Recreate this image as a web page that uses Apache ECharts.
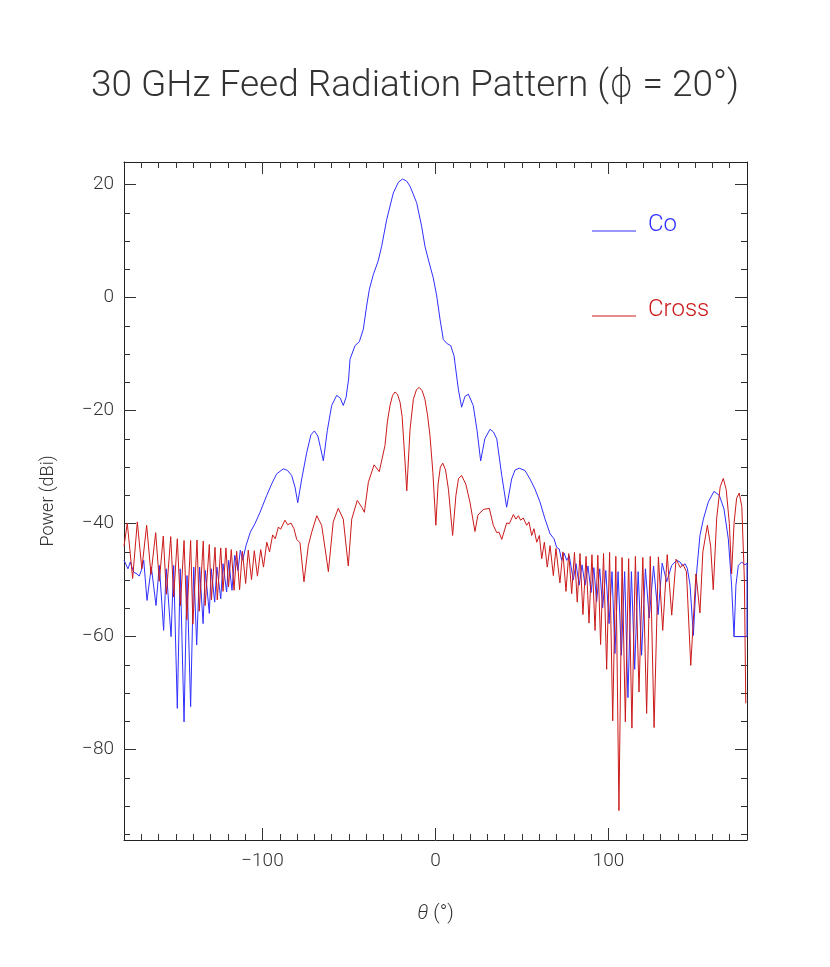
<!DOCTYPE html>
<html><head><meta charset="utf-8">
<script src="https://cdn.jsdelivr.net/npm/echarts@6/dist/echarts.min.js"></script>
<style>html,body{margin:0;padding:0;background:#fff}#c{width:830px;height:967px}</style>
</head><body><div id="c"></div>
<script>
const seriesNames = ['Co', 'Cross'];
const coTheta = [-180.0,-177.7,-176.4,-174.4,-172.5,-171.2,-170.0,-168.6,-166.7,-164.2,-161.5,-159.6,-157.1,-155.6,-152.8,-151.3,-149.2,-147.5,-145.3,-143.6,-141.5,-139.7,-138.0,-136.3,-134.3,-133.0,-130.7,-129.6,-127.6,-126.3,-124.1,-122.8,-120.7,-119.5,-117.6,-116.0,-114.1,-112.8,-111.4,-109.5,-107.0,-104.3,-101.4,-97.5,-94.7,-91.8,-87.9,-85.5,-83.1,-81.2,-79.6,-77.3,-74.4,-72.0,-70.0,-68.0,-66.5,-64.8,-62.5,-60.0,-57.1,-55.0,-53.3,-51.7,-50.2,-49.4,-46.5,-44.0,-41.7,-39.8,-38.2,-35.9,-33.1,-31.1,-28.2,-24.4,-21.5,-19.0,-16.6,-14.7,-10.9,-8.0,-6.1,-4.2,-1.3,0.7,2.6,4.5,6.5,8.8,10.7,13.2,15.1,17.0,19.0,21.8,24.0,26.1,28.5,31.5,33.5,35.4,38.3,41.1,44.0,46.0,48.4,51.7,54.6,57.5,60.4,63.3,66.2,68.5,70.0,71.5,72.9,74.3,75.8,77.3,79.6,81.2,83.0,84.7,86.4,88.1,89.9,91.5,93.1,94.9,96.6,98.4,100.3,102.0,103.7,105.5,107.4,109.3,111.2,113.2,115.1,117.1,119.1,121.3,123.5,126.0,128.6,131.0,133.6,136.5,139.4,141.3,142.8,144.2,145.5,147.1,149.0,150.9,152.8,154.8,157.6,160.9,164.0,166.7,169.2,171.1,172.5,173.6,175.0,176.9,178.8,180.0,180.0,172.5];
const coPower = [-46.5,-48.0,-46.8,-48.6,-48.9,-49.3,-48.3,-46.5,-53.6,-47.7,-54.5,-47.4,-58.9,-48.0,-60.0,-47.4,-72.7,-48.0,-75.1,-49.2,-72.4,-47.7,-61.5,-47.7,-57.7,-48.3,-55.9,-48.0,-53.9,-47.7,-53.3,-47.1,-52.1,-46.5,-51.8,-45.6,-48.3,-44.7,-46.5,-43.9,-41.5,-40.0,-38.0,-35.0,-33.0,-31.2,-30.3,-30.6,-31.5,-33.5,-36.3,-32.1,-27.4,-24.3,-23.6,-24.5,-26.5,-28.9,-23.5,-19.1,-17.3,-17.8,-19.1,-17.7,-14.4,-10.9,-8.5,-7.8,-5.6,-1.5,1.5,4.1,6.5,9.1,13.8,18.5,20.4,21.0,20.6,19.7,16.8,12.6,9.1,6.8,3.5,0.3,-3.8,-7.4,-8.1,-8.5,-10.3,-16.2,-19.4,-17.5,-17.1,-19.1,-23.5,-28.9,-25.0,-23.3,-23.8,-25.0,-31.5,-37.1,-32.1,-30.5,-30.2,-30.6,-32.1,-33.9,-36.2,-39.2,-41.8,-42.7,-44.2,-44.5,-46.5,-45.2,-46.5,-45.7,-50.0,-47.1,-50.9,-47.3,-50.9,-47.5,-52.2,-47.8,-53.8,-48.0,-54.9,-48.3,-57.7,-48.5,-63.0,-48.5,-63.3,-48.5,-70.8,-48.5,-65.8,-48.5,-63.3,-48.0,-56.7,-47.5,-56.1,-47.0,-50.3,-47.4,-46.5,-46.8,-47.5,-47.1,-47.9,-50.9,-59.8,-48.6,-42.1,-39.2,-36.2,-34.3,-35.0,-37.4,-42.7,-50.9,-60.0,-50.9,-47.4,-46.8,-47.3,-47.0,-60.0,-60.0];
const crossTheta = [-180.0,-178.1,-175.0,-172.3,-169.7,-166.9,-164.4,-161.7,-159.6,-157.3,-155.5,-153.0,-151.3,-149.2,-147.4,-145.3,-143.7,-141.5,-140.2,-137.8,-136.5,-134.2,-133.1,-130.7,-129.5,-127.4,-126.1,-124.1,-122.8,-121.1,-119.6,-118.0,-116.4,-114.9,-113.2,-111.6,-109.7,-108.2,-106.3,-104.7,-102.9,-101.0,-99.4,-97.5,-95.9,-94.1,-92.6,-90.8,-89.5,-87.0,-85.4,-83.5,-81.8,-80.2,-78.3,-76.0,-73.5,-71.5,-68.6,-65.8,-63.8,-61.9,-59.1,-56.2,-53.3,-50.4,-48.4,-45.2,-42.6,-41.1,-38.8,-35.5,-32.5,-29.2,-27.8,-26.3,-24.8,-23.4,-22.0,-20.5,-19.3,-18.2,-16.6,-14.7,-12.8,-11.0,-9.4,-7.7,-6.1,-4.6,-3.2,-1.5,0.2,1.5,2.8,4.2,5.8,7.5,9.9,11.8,13.3,15.1,17.5,19.9,22.8,24.5,27.6,31.1,33.4,35.4,36.7,38.3,41.1,42.7,45.0,46.5,47.9,49.2,50.7,52.7,54.0,55.6,56.9,58.5,60.0,61.4,62.9,64.6,66.2,68.1,69.6,71.9,73.6,75.4,77.0,78.7,80.3,81.9,83.5,85.2,87.0,88.7,90.4,92.2,93.8,95.4,97.1,98.9,100.6,102.4,104.2,106.0,107.8,109.7,111.6,113.5,115.5,117.6,119.8,122.0,124.1,126.3,128.8,131.3,133.9,136.5,139.0,141.5,143.0,145.0,147.5,150.5,152.8,154.5,157.1,159.0,160.5,162.5,164.5,166.3,168.0,169.8,171.1,172.5,174.0,175.5,177.0,178.5,179.3];
const crossPower = [-44.0,-39.9,-49.7,-39.7,-48.0,-40.3,-49.0,-41.6,-50.2,-42.2,-52.5,-42.3,-53.0,-42.7,-54.5,-43.0,-57.0,-43.0,-57.8,-42.9,-55.5,-43.1,-54.5,-43.7,-53.5,-44.2,-53.5,-44.3,-52.0,-44.3,-51.2,-44.6,-51.8,-44.9,-51.7,-44.9,-50.6,-44.7,-49.9,-44.8,-49.3,-44.6,-47.7,-43.3,-45.0,-42.0,-42.7,-40.6,-41.0,-39.4,-40.2,-39.9,-40.9,-42.8,-43.4,-50.3,-43.9,-41.5,-38.6,-40.3,-44.4,-48.5,-39.7,-37.3,-39.2,-47.5,-39.2,-35.9,-37.1,-38.0,-32.7,-29.6,-30.8,-26.2,-22.0,-19.1,-17.3,-16.7,-17.1,-18.5,-21.0,-26.2,-34.2,-23.3,-18.0,-16.3,-15.9,-16.5,-18.0,-20.8,-24.4,-31.0,-40.3,-33.0,-30.0,-29.3,-30.5,-34.0,-42.1,-35.0,-32.0,-31.5,-33.0,-36.2,-41.4,-38.5,-37.5,-37.3,-40.3,-41.6,-41.5,-42.8,-39.9,-40.0,-38.4,-39.2,-38.6,-39.4,-39.0,-40.3,-39.7,-42.1,-40.9,-43.3,-42.1,-46.2,-43.3,-47.7,-43.9,-49.2,-44.4,-50.5,-45.0,-52.0,-45.3,-52.4,-45.1,-53.9,-45.3,-56.1,-45.8,-57.6,-45.5,-58.9,-45.6,-61.4,-45.3,-65.8,-45.1,-74.9,-45.8,-90.8,-46.0,-75.1,-46.2,-76.2,-45.8,-69.8,-46.0,-73.6,-45.8,-76.1,-45.9,-58.9,-45.5,-56.2,-46.3,-47.8,-47.2,-48.5,-65.1,-48.9,-55.8,-45.0,-40.3,-44.0,-51.7,-39.0,-33.5,-32.0,-34.0,-40.0,-48.9,-40.0,-35.5,-34.6,-37.0,-50.0,-71.8];
const xMajorTicks = [-100, 0, 100];
const xMinorTicks = [-170,-160,-150,-140,-130,-120,-110,-90,-80,-70,-60,-50,-40,-30,-20,-10,10,20,30,40,50,60,70,80,90,110,120,130,140,150,160,170];
const yMajorTicks = [-80, -60, -40, -20, 0, 20];
const yMinorTicks = [-95,-90,-85,-75,-70,-65,-55,-50,-45,-35,-30,-25,-15,-10,-5,5,10,15];

const FONT = 'Roboto, "DejaVu Sans", sans-serif';
const W = 300;
const fmt = v => (v < 0 ? '\u2212' + Math.abs(v) : String(v));
const pair = (xs, ys) => xs.map((x, i) => [x, ys[i]]);

function axis(kind, pos, ticks, len, labels, line) {
  const isX = kind === 'x';
  return {
    type: 'value', position: pos,
    min: isX ? -180 : -96, max: isX ? 180 : 24,
    axisLine: {show: line, onZero: false, lineStyle: {color: '#222', width: 1}},
    axisTick: {show: true, inside: true, length: len, customValues: ticks, lineStyle: {color: '#333', width: 1}},
    axisLabel: {show: labels, customValues: ticks, formatter: fmt, margin: isX ? 12 : 10,
      fontFamily: FONT, fontWeight: W, fontSize: 19, color: '#333'},
    splitLine: {show: false}
  };
}

const xAxes = [axis('x','bottom',xMajorTicks,12,true,true), axis('x','bottom',xMinorTicks,6,false,false),
               axis('x','top',xMajorTicks,12,false,true), axis('x','top',xMinorTicks,6,false,false)];
xAxes[0].name = '{i|\u03b8} (\u00b0)';
xAxes[0].nameLocation = 'middle';
xAxes[0].nameGap = 64;
xAxes[0].nameTextStyle = {fontFamily: FONT, fontWeight: W, fontSize: 20, color: '#333',
  rich: {i: {fontFamily: FONT, fontStyle: 'italic', fontWeight: W, fontSize: 20, color: '#333'}}};
const yAxes = [axis('y','left',yMajorTicks,12,true,true), axis('y','left',yMinorTicks,6,false,false),
               axis('y','right',yMajorTicks,12,false,true), axis('y','right',yMinorTicks,6,false,false)];
yAxes[0].name = 'Power (dBi)';
yAxes[0].nameLocation = 'middle';
yAxes[0].nameGap = 67;
yAxes[0].nameTextStyle = {fontFamily: FONT, fontWeight: W, fontSize: 18, color: '#333'};

const colors = ['#3030ff', '#cc1a1a'];
const chart = echarts.init(document.getElementById('c'), null, {renderer: 'canvas'});
chart.setOption({
  backgroundColor: '#fff',
  animation: false,
  title: {text: '30 GHz Feed Radiation Pattern (\u03d5 = 20\u00b0)', left: 'center', top: 63,
    textStyle: {fontFamily: FONT, fontWeight: W, fontSize: 37, color: '#333'}},
  grid: {left: 124, right: 83, top: 162, bottom: 127, containLabel: false},
  xAxis: xAxes,
  yAxis: yAxes,
  legend: {orient: 'vertical', left: 587, top: 208, itemWidth: 44, itemHeight: 16, itemGap: 61,
    icon: 'path://M0,0L0.01,0L0.01,0.01L0,0.01Z M0,15.99L0.01,15.99L0.01,16L0,16Z M0,13.5L44,13.5L44,14.5L0,14.5Z',
    data: [
      {name: seriesNames[0], textStyle: {color: colors[0]}},
      {name: seriesNames[1], textStyle: {color: colors[1]}}
    ],
    textStyle: {fontFamily: FONT, fontWeight: W, fontSize: 24, padding: [0, 0, 0, 7]}},
  series: [
    {name: seriesNames[0], type: 'line', data: pair(coTheta, coPower), showSymbol: false, symbol: 'none',
     lineStyle: {color: colors[0], width: 1}, itemStyle: {color: colors[0]}, xAxisIndex: 0, yAxisIndex: 0},
    {name: seriesNames[1], type: 'line', data: pair(crossTheta, crossPower), showSymbol: false, symbol: 'none',
     lineStyle: {color: colors[1], width: 1}, itemStyle: {color: colors[1]}, xAxisIndex: 0, yAxisIndex: 0}
  ]
});
</script>
</body></html>
